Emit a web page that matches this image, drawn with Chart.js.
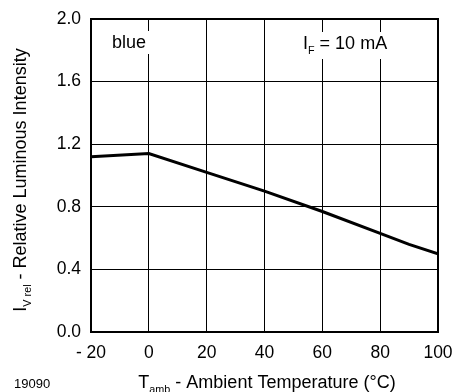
<!DOCTYPE html>
<html>
<head>
<meta charset="utf-8">
<script src="https://cdn.jsdelivr.net/npm/chart.js@4"></script>
<style>
  html, body { margin: 0; padding: 0; background: #fff; }
</style>
</head>
<body>
<canvas id="grafico" width="455" height="392"></canvas>
<script>
// dados
const temperaturas = [-20, 0, 20, 40, 60, 80, 90, 100];
const intensidades = [1.12, 1.14, 1.02, 0.90, 0.77, 0.63, 0.56, 0.50];
const ticksX = [-20, 0, 20, 40, 60, 80, 100];
const ticksY = [0, 0.4, 0.8, 1.2, 1.6, 2.0];

const FONTE = 'Liberation Sans, Arial, Helvetica, sans-serif';

// texto com subscrito
function textoSub(ctx, partes, x, y, tam) {
  let cx = x;
  partes.forEach(([t, sub]) => {
    ctx.font = (sub ? tam * 0.6 : tam) + 'px ' + FONTE;
    ctx.fillText(t, cx, y + (sub ? tam * 0.3 : 0));
    cx += ctx.measureText(t).width;
  });
}
function larguraSub(ctx, partes, tam) {
  let w = 0;
  partes.forEach(([t, sub]) => {
    ctx.font = (sub ? tam * 0.6 : tam) + 'px ' + FONTE;
    w += ctx.measureText(t).width;
  });
  return w;
}

const rotulos = {
  id: 'rotulos',
  beforeDatasetsDraw(chart) {
    const ctx = chart.ctx;
    ctx.save();
    ctx.fillStyle = '#fff';
    ctx.fillRect(104, 31, 51, 23);
    ctx.fillRect(297, 32, 96, 27);
    ctx.fillStyle = '#000';
    ctx.textBaseline = 'alphabetic';
    ctx.font = '18px ' + FONTE;
    ctx.fillText('blue', 112, 48);
    textoSub(ctx, [['I', false], ['F', true], [' = 10 mA', false]], 303, 49, 18);
    ctx.restore();
  },
  afterDraw(chart) {
    const ctx = chart.ctx;
    const a = chart.chartArea;
    ctx.save();
    ctx.strokeStyle = '#000';
    ctx.lineWidth = 2;
    ctx.strokeRect(a.left, a.top, a.right - a.left, a.bottom - a.top);

    ctx.fillStyle = '#000';
    ctx.textBaseline = 'alphabetic';
    // titulo eixo x
    const px = [['T', false], ['amb', true], [' - Ambient Temperature (°C)', false]];
    const wx = larguraSub(ctx, px, 18);
    textoSub(ctx, px, 267 - wx / 2, 388, 18);
    // titulo eixo y
    ctx.translate(26, 180);
    ctx.rotate(-Math.PI / 2);
    const py = [['I', false], ['V rel', true], [' - Relative Luminous Intensity', false]];
    const wy = larguraSub(ctx, py, 18);
    textoSub(ctx, py, -wy / 2, 0, 18);
    ctx.restore();

    ctx.save();
    ctx.font = '13px ' + FONTE;
    ctx.fillStyle = '#000';
    ctx.fillText('19090', 14, 388);
    ctx.restore();
  }
};

new Chart(document.getElementById('grafico'), {
  type: 'line',
  data: {
    datasets: [{
      data: temperaturas.map((t, i) => ({ x: t, y: intensidades[i] })),
      borderColor: '#000',
      borderWidth: 3,
      pointRadius: 0,
      tension: 0,
      fill: false
    }]
  },
  options: {
    responsive: false,
    animation: false,
    maintainAspectRatio: false,
    layout: { padding: { left: 0, right: 17, top: 19, bottom: 0 } },
    plugins: { legend: { display: false }, tooltip: { enabled: false } },
    scales: {
      x: {
        type: 'linear',
        min: -20, max: 100,
        afterBuildTicks: (s) => { s.ticks = ticksX.map(v => ({ value: v })); },
        afterFit: (s) => { s.height = 60; s.paddingLeft = 0; s.paddingRight = 0; },
        grid: { color: '#000', lineWidth: 1, drawTicks: false },
        border: { display: false },
        ticks: {
          color: '#000', padding: 11, maxRotation: 0, minRotation: 0, autoSkip: false,
          font: { family: FONTE, size: 17.5 },
          callback: (v) => v < 0 ? '- ' + Math.abs(v) : String(v)
        }
      },
      y: {
        min: 0, max: 2,
        afterBuildTicks: (s) => { s.ticks = ticksY.map(v => ({ value: v })); },
        afterFit: (s) => { s.width = 91; s.paddingTop = 0; s.paddingBottom = 0; },
        grid: { color: '#000', lineWidth: 1, drawTicks: false },
        border: { display: false },
        ticks: {
          color: '#000', padding: 10, autoSkip: false,
          font: { family: FONTE, size: 17.5 },
          callback: (v) => v.toFixed(1)
        }
      }
    }
  },
  plugins: [rotulos]
});
</script>
</body>
</html>
